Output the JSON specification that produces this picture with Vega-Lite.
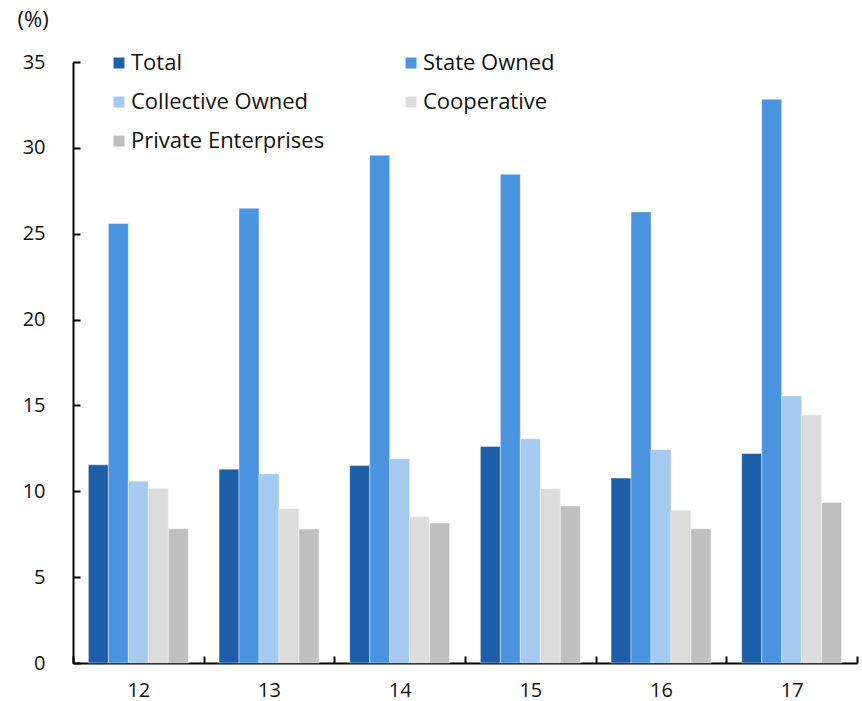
{
  "$schema": "https://vega.github.io/schema/vega-lite/v6.json",
  "width": 784,
  "height": 601,
  "autosize": "none",
  "padding": {"left": 73, "top": 62, "right": 5, "bottom": 38},
  "background": "white",
  "config": {
    "font": "Open Sans",
    "view": {"stroke": null},
    "axis": {"labelFont": "Open Sans", "titleFont": "Open Sans", "labelColor": "#111", "titleColor": "#111"},
    "legend": {"labelFont": "Open Sans"}
  },
  "data": {
    "values": [
      {"year": "12", "series": "Total", "value": 11.54},
      {"year": "12", "series": "State Owned", "value": 25.6},
      {"year": "12", "series": "Collective Owned", "value": 10.59},
      {"year": "12", "series": "Cooperative", "value": 10.18},
      {"year": "12", "series": "Private Enterprises", "value": 7.82},
      {"year": "13", "series": "Total", "value": 11.29},
      {"year": "13", "series": "State Owned", "value": 26.48},
      {"year": "13", "series": "Collective Owned", "value": 11.02},
      {"year": "13", "series": "Cooperative", "value": 9.0},
      {"year": "13", "series": "Private Enterprises", "value": 7.8},
      {"year": "14", "series": "Total", "value": 11.5},
      {"year": "14", "series": "State Owned", "value": 29.57},
      {"year": "14", "series": "Collective Owned", "value": 11.9},
      {"year": "14", "series": "Cooperative", "value": 8.52},
      {"year": "14", "series": "Private Enterprises", "value": 8.15},
      {"year": "15", "series": "Total", "value": 12.61},
      {"year": "15", "series": "State Owned", "value": 28.46},
      {"year": "15", "series": "Collective Owned", "value": 13.06},
      {"year": "15", "series": "Cooperative", "value": 10.15},
      {"year": "15", "series": "Private Enterprises", "value": 9.14},
      {"year": "16", "series": "Total", "value": 10.77},
      {"year": "16", "series": "State Owned", "value": 26.27},
      {"year": "16", "series": "Collective Owned", "value": 12.43},
      {"year": "16", "series": "Cooperative", "value": 8.9},
      {"year": "16", "series": "Private Enterprises", "value": 7.82},
      {"year": "17", "series": "Total", "value": 12.2},
      {"year": "17", "series": "State Owned", "value": 32.83},
      {"year": "17", "series": "Collective Owned", "value": 15.55},
      {"year": "17", "series": "Cooperative", "value": 14.45},
      {"year": "17", "series": "Private Enterprises", "value": 9.35}
    ]
  },
  "mark": {"type": "bar", "stroke": "white", "strokeWidth": 0.6, "strokeOpacity": 0.7},
  "encoding": {
    "x": {
      "field": "year", "type": "nominal", "sort": null,
      "scale": {"paddingInner": 0, "paddingOuter": 0},
      "axis": {
        "title": null, "labelAngle": 0, "labelFontSize": 20,
        "domainColor": "black", "domainWidth": 2,
        "tickBand": "extent", "tickColor": "black", "tickWidth": 2, "tickSize": -7,
        "labelPadding": 24, "labelBaseline": "top"
      }
    },
    "xOffset": {
      "field": "series", "type": "nominal",
      "sort": ["Total", "State Owned", "Collective Owned", "Cooperative", "Private Enterprises"],
      "scale": {"paddingInner": 0, "paddingOuter": 0.77}
    },
    "y": {
      "field": "value", "type": "quantitative",
      "scale": {"domain": [0, 35], "nice": false},
      "axis": {
        "values": [0, 5, 10, 15, 20, 25, 30, 35],
        "grid": false, "labelFontSize": 20,
        "domainColor": "black", "domainWidth": 2,
        "tickColor": "black", "tickWidth": 2, "tickSize": -7,
        "labelPadding": 35,
        "title": "(%)", "titleAngle": 0, "titleAlign": "left", "titleBaseline": "middle",
        "titleX": -56, "titleY": -43, "titleFontSize": 22, "titleFontWeight": "normal"
      }
    },
    "color": {
      "field": "series", "type": "nominal",
      "scale": {
        "domain": ["Total", "Collective Owned", "Private Enterprises", "State Owned", "Cooperative"],
        "range": ["#1c5fa8", "#a6c9ef", "#bfbfbf", "#4a93df", "#dcdcdc"]
      },
      "legend": {
        "title": null, "orient": "none", "legendX": 35, "legendY": -10,
        "columns": 2, "columnPadding": 75, "rowPadding": 17,
        "symbolType": "square", "symbolSize": 121, "symbolStrokeWidth": 0,
        "labelFontSize": 22, "labelColor": "#111", "labelOffset": 1, "labelLimit": 400,
        "padding": 0
      }
    }
  }
}
